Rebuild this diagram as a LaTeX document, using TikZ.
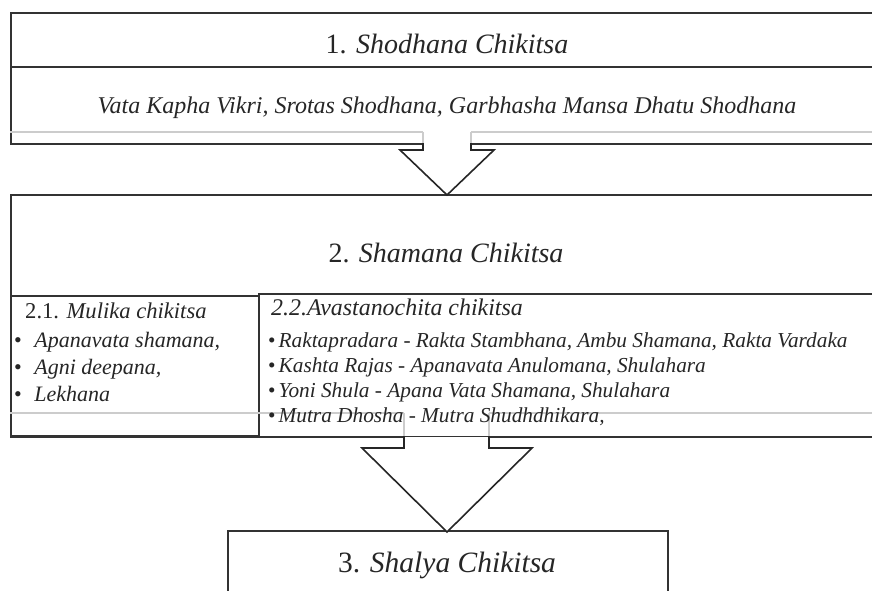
\documentclass[tikz,border=0pt]{standalone}
\usepackage{fontspec}
\setmainfont{Liberation Serif}
\begin{document}
\begin{tikzpicture}[x=1pt, y=-1pt]
  \tikzstyle{cadre}=[draw=black!80, line width=2pt, inner sep=0, anchor=north west];
  \tikzstyle{titre}=[anchor=base, inner sep=0, text=black!85, font=\fontsize{28}{32}\selectfont];
  \tikzstyle{texte}=[anchor=base west, inner sep=0, text=black!85, font=\fontsize{22}{26}\selectfont];
  \tikzstyle{trait}=[black!20, line width=1.5pt];
  \tikzstyle{fleche}=[draw=black!85, line width=1.6pt, line join=miter];

  \clip (0,0) rectangle (872,590);
  \fill[white] (0,0) rectangle (872,590);

  % 1. Shodhana
  \node[cadre, minimum width=890pt, minimum height=54pt] (shodhana) at (10,12) {};
  \node[cadre, minimum width=890pt, minimum height=77pt] (shodhanabas) at (10,66) {};
  \draw[trait] (10,132) -- (423,132) (471,132) -- (900,132);
  \node[titre] (t1) at (447,53) {1. \textit{Shodhana Chikitsa}};
  \node[titre, font=\fontsize{24}{28}\selectfont\itshape] (t1b) at (447,113)
    {Vata Kapha Vikri, Srotas Shodhana, Garbhasha Mansa Dhatu Shodhana};

  % 2. Shamana
  \node[cadre, minimum width=890pt, minimum height=242pt] (shamana) at (10,194) {};
  \node[titre] (t2) at (446,262) {2. \textit{Shamana Chikitsa}};
  \node[cadre, minimum width=248pt, minimum height=140pt] (mulika) at (10,295) {};
  \node[cadre, minimum width=642pt, minimum height=143pt] (avasta) at (258,293) {};
  \draw[trait] (10,413) -- (404,413) (489,413) -- (900,413);
  \draw[trait] (404,413) -- (404,436) (489,413) -- (489,436);

  \node[texte, font=\fontsize{22.6}{26}\selectfont] (m0) at (25,318) {2.1. \textit{Mulika chikitsa}};
  \foreach \ligne [count=\i] in {{Apanavata shamana,}, {Agni deepana,}, Lekhana}
    \node[texte] (m\i) at (14,320+27*\i) {•\hspace{12.5pt}\textit{\ligne}};

  \node[texte, font=\fontsize{23.9}{27}\selectfont\itshape] (a0) at (271,315) {2.2.Avastanochita chikitsa};
  \foreach \ligne [count=\i] in {{Raktapradara - Rakta Stambhana, Ambu Shamana, Rakta Vardaka},
      {Kashta Rajas - Apanavata Anulomana, Shulahara},
      {Yoni Shula - Apana Vata Shamana, Shulahara},
      {Mutra Dhosha - Mutra Shudhdhikara,}}
    \node[texte, font=\fontsize{21.3}{25}\selectfont] (a\i) at (268,322+25*\i) {•\hspace{3pt}\textit{\ligne}};

  % 3. Shalya
  \node[cadre, minimum width=440pt, minimum height=100pt] (shalya) at (227,530) {};
  \node[titre, font=\fontsize{29.5}{33}\selectfont] (t3) at (447,572) {3. \textit{Shalya Chikitsa}};

  % fleche 1
  \fill[white] (423,132) -- (423,150) -- (400,150) -- (447,195) -- (494,150) -- (471,150) -- (471,132) -- cycle;
  \draw[trait] (423,132) -- (423,143) (471,132) -- (471,143);
  \draw[fleche] (423,143) -- (423,150) -- (400,150) -- (447,195) -- (494,150) -- (471,150) -- (471,143);

  % fleche 2
  \fill[white] (404,437) -- (404,448) -- (362,448) -- (447,532) -- (532,448) -- (489,448) -- (489,437) -- cycle;
  \draw[fleche] (404,436) -- (404,448) -- (362,448) -- (447,532) -- (532,448) -- (489,448) -- (489,436);
\end{tikzpicture}
\end{document}
